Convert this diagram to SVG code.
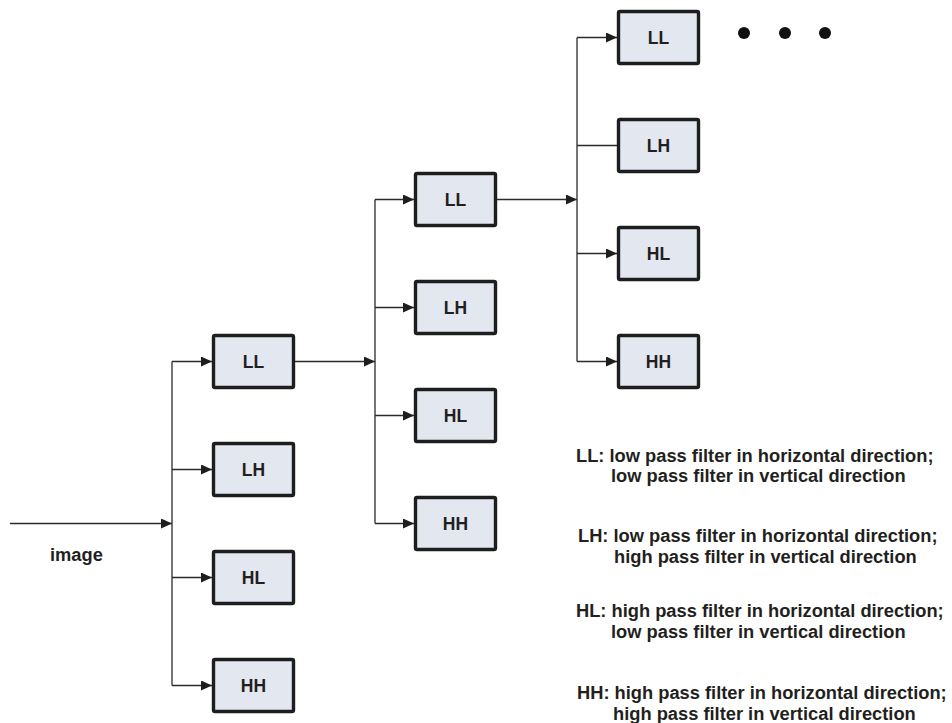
<svg xmlns="http://www.w3.org/2000/svg" width="952" height="723" viewBox="0 0 952 723">
<style>
.box rect{fill:#e3e7f0;stroke:#1e1e1e;stroke-width:3.4}
.box text{font-family:"Liberation Sans",Arial,sans-serif;font-weight:bold;font-size:17.5px;fill:#231f20;text-anchor:middle}
.conn path{stroke:#2b2b2b;stroke-width:1.3;fill:none}
.arr{marker-end:url(#ah)}
.leg{font-family:"Liberation Sans",Arial,sans-serif;font-weight:bold;font-size:18.3px;fill:#231f20}
.dot{fill:#111}
</style>
<defs>
<marker id="ah" markerUnits="userSpaceOnUse" markerWidth="11" markerHeight="10" refX="11" refY="5" orient="auto">
<path d="M0,0 L11,5 L0,10 z" fill="#1e1e1e"/>
</marker>
</defs>
<g class="conn">
<path class="arr" d="M10,523.5 H172"/>
<path d="M172,361.5 V685.5"/>
<path class="arr" d="M172,361.5 H212"/>
<path class="arr" d="M172,469.5 H212"/>
<path class="arr" d="M172,577.5 H212"/>
<path class="arr" d="M172,685.5 H212"/>
<path class="arr" d="M295,361.5 H375"/>
<path d="M375,199.5 V523.5"/>
<path class="arr" d="M375,199.5 H414"/>
<path class="arr" d="M375,307.5 H414"/>
<path class="arr" d="M375,415.5 H414"/>
<path class="arr" d="M375,523.5 H414"/>
<path class="arr" d="M497,199.5 H577"/>
<path d="M577,37.5 V361.5"/>
<path class="arr" d="M577,37.5 H617"/>
<path d="M577,145.5 H617"/>
<path class="arr" d="M577,253.5 H617"/>
<path class="arr" d="M577,361.5 H617"/>
</g>
<g id="n1-LL" class="box"><rect x="213.5" y="335.5" width="80" height="52" rx="1.5"/><text x="253.5" y="367.5">LL</text></g>
<g id="n1-LH" class="box"><rect x="213.5" y="443.5" width="80" height="52" rx="1.5"/><text x="253.5" y="475.5">LH</text></g>
<g id="n1-HL" class="box"><rect x="213.5" y="551.5" width="80" height="52" rx="1.5"/><text x="253.5" y="583.5">HL</text></g>
<g id="n1-HH" class="box"><rect x="213.5" y="659.5" width="80" height="52" rx="1.5"/><text x="253.5" y="691.5">HH</text></g>
<g id="n2-LL" class="box"><rect x="415.5" y="173.5" width="80" height="52" rx="1.5"/><text x="455.5" y="205.5">LL</text></g>
<g id="n2-LH" class="box"><rect x="415.5" y="281.5" width="80" height="52" rx="1.5"/><text x="455.5" y="313.5">LH</text></g>
<g id="n2-HL" class="box"><rect x="415.5" y="389.5" width="80" height="52" rx="1.5"/><text x="455.5" y="421.5">HL</text></g>
<g id="n2-HH" class="box"><rect x="415.5" y="497.5" width="80" height="52" rx="1.5"/><text x="455.5" y="529.5">HH</text></g>
<g id="n3-LL" class="box"><rect x="618.5" y="11.5" width="80" height="52" rx="1.5"/><text x="658.5" y="43.5">LL</text></g>
<g id="n3-LH" class="box"><rect x="618.5" y="119.5" width="80" height="52" rx="1.5"/><text x="658.5" y="151.5">LH</text></g>
<g id="n3-HL" class="box"><rect x="618.5" y="227.5" width="80" height="52" rx="1.5"/><text x="658.5" y="259.5">HL</text></g>
<g id="n3-HH" class="box"><rect x="618.5" y="335.5" width="80" height="52" rx="1.5"/><text x="658.5" y="367.5">HH</text></g>
<g id="dots">
<circle class="dot" cx="744" cy="33" r="6"/>
<circle class="dot" cx="785" cy="33" r="6"/>
<circle class="dot" cx="825" cy="33" r="6"/>
</g>
<g id="image-label"><text class="leg" x="50" y="561">image</text></g>
<g id="legend">
<text class="leg" x="576" y="462">LL: low pass filter in horizontal direction;</text>
<text class="leg" x="611" y="482">low pass filter in vertical direction</text>
<text class="leg" x="578" y="542">LH: low pass filter in horizontal direction;</text>
<text class="leg" x="614" y="563">high pass filter in vertical direction</text>
<text class="leg" x="576" y="617">HL: high pass filter in horizontal direction;</text>
<text class="leg" x="611" y="638">low pass filter in vertical direction</text>
<text class="leg" x="577" y="699">HH: high pass filter in horizontal direction;</text>
<text class="leg" x="613" y="720">high pass filter in vertical direction</text>
</g>
</svg>
